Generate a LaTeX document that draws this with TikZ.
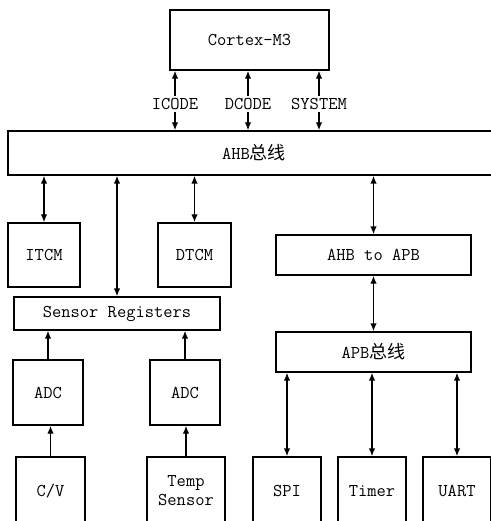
\documentclass[tikz,border=0pt]{standalone}
\usepackage{fontspec}
\newfontfamily\cjk{Noto Sans CJK SC}
\usepackage{tikz}
\usetikzlibrary{arrows.meta,positioning,calc}

\begin{document}
\begin{tikzpicture}[
  x=1pt, y=-1pt,
  box/.style={draw, line width=1.4pt, inner sep=0pt, font=\fontsize{18}{21}\selectfont\ttfamily, align=center},
  lab/.style={inner sep=2pt, font=\fontsize{18}{21}\selectfont\ttfamily},
  arr/.style={-{Latex[length=8pt, width=6.5pt]}, line width=1.4pt},
  darr/.style={{Latex[length=8pt, width=6.5pt]}-{Latex[length=8pt, width=6.5pt]}, line width=1.4pt}
]
\useasboundingbox (0,0) rectangle (490,521);
% core and bus
\node[box, minimum width=159pt, minimum height=60pt] (cortex) at (249.5,40) {Cortex-M3};
\node[box, minimum width=492pt, minimum height=44pt] (ahb) at (254,153) {AHB{\cjk 总线}};
\node[lab] (icode) at (175,104) {ICODE};
\node[lab] (dcode) at (248,104) {DCODE};
\node[lab] (system) at (319,104) {SYSTEM};
\foreach \n in {icode, dcode, system} {
  \draw[arr] (\n.north) -- (\n.north |- cortex.south);
  \draw[arr] (\n.south) -- (\n.south |- ahb.north);
}
% memories and sensors
\node[box, minimum width=72pt, minimum height=64pt] (itcm) at (44,255) {ITCM};
\node[box, minimum width=73pt, minimum height=64pt] (dtcm) at (194.5,255) {DTCM};
\node[box, minimum width=206pt, minimum height=33pt] (sensor) at (117,313.5) {Sensor Registers};
\node[box, minimum width=70pt, minimum height=65pt] (adcl) at (48,392.5) {ADC};
\node[box, minimum width=70pt, minimum height=65pt] (adcr) at (185,392.5) {ADC};
\node[box, minimum width=69pt, minimum height=68pt] (cv) at (50.5,491) {C/V};
\node[box, minimum width=78pt, minimum height=68pt] (temp) at (186,491) {Temp\\[-2pt]Sensor};
% peripheral side
\node[box, minimum width=195pt, minimum height=40pt] (a2a) at (373.5,255) {AHB to APB};
\node[box, minimum width=195pt, minimum height=40pt] (apb) at (373.5,352) {APB{\cjk 总线}};
\node[box, minimum width=68pt, minimum height=68pt] (spi) at (287,491) {SPI};
\node[box, minimum width=68pt, minimum height=68pt] (timer) at (372,491) {Timer};
\node[box, minimum width=68pt, minimum height=68pt] (uart) at (457,491) {UART};

\draw[darr] (ahb.south -| itcm) -- (itcm.north);
\draw[darr] (ahb.south -| dtcm) -- (dtcm.north);
\draw[darr] (ahb.south -| sensor) -- (sensor.north);
\draw[darr] (ahb.south -| a2a) -- (a2a.north);
\draw[darr] (a2a.south) -- (apb.north);
\draw[arr] (adcl.north) -- (adcl.north |- sensor.south);
\draw[arr] (adcr.north) -- (adcr.north |- sensor.south);
\draw[arr] (cv.north) -- (cv.north |- adcl.south);
\draw[arr] (temp.north) -- (temp.north |- adcr.south);
\foreach \n in {spi, timer, uart}
  \draw[darr] (apb.south -| \n) -- (\n.north);
\end{tikzpicture}
\end{document}
